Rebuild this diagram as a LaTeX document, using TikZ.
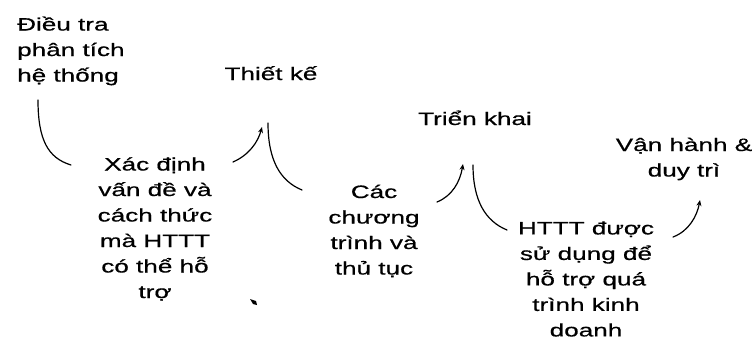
\documentclass[tikz,border=0pt]{standalone}
\usepackage{fontspec}
\setmainfont{Liberation Sans}[FakeStretch=1.45, FakeBold=0.6]
\usetikzlibrary{arrows.meta}

\tikzset{
  label text/.style={inner sep=0pt, align=center, font=\fontsize{18}{25.5}\selectfont},
  flow/.style={line width=1.2pt, line cap=round},
  flowarrow/.style={flow, -{Stealth[length=6pt,width=5pt]}},
}

\begin{document}
\begin{tikzpicture}[x=1pt, y=-1pt]
  \useasboundingbox (0,0) rectangle (754,345);

  % stages and their outputs
  \node[label text, align=left, anchor=west] (phantich) at (17,51) {Điều tra\\phân tích\\hệ thống};
  \node[label text, anchor=base] (thietke) at (271,80) {Thiết kế};
  \node[label text, anchor=base] (trienkhai) at (475,125) {Triển khai};
  \node[label text, anchor=center] (vanhanh) at (684,159) {Vận hành \&\\duy trì};

  \node[label text] (xacdinh) at (155,229) {Xác định\\vấn đề và\\cách thức\\mà HTTT\\có thể hỗ\\trợ};
  \node[label text] (chuongtrinh) at (374,231) {Các\\chương\\trình và\\thủ tục};
  \node[label text] (httt) at (586,279) {HTTT được\\sử dụng để\\hỗ trợ quá\\trình kinh\\doanh};

  % connector end points
  \coordinate (a1) at (38,100);  \coordinate (a2) at (71,165);
  \coordinate (b1) at (233,162); \coordinate (b2) at (262,127);
  \coordinate (c1) at (268,123); \coordinate (c2) at (302,190);
  \coordinate (d1) at (437,202); \coordinate (d2) at (463,164);
  \coordinate (e1) at (473,165); \coordinate (e2) at (507,230);
  \coordinate (f1) at (673,237); \coordinate (f2) at (700,200);

  % curved connectors
  \draw[flow] (a1) .. controls (38,140) and (48,158) .. (a2);
  \draw[flowarrow] (b1) .. controls (249,155) and (258,142) .. (b2);
  \draw[flow] (c1) .. controls (268,160) and (280,181) .. (c2);
  \draw[flowarrow] (d1) .. controls (452,196) and (460,182) .. (d2);
  \draw[flow] (e1) .. controls (473,200) and (485,221) .. (e2);
  \draw[flowarrow] (f1) .. controls (689,231) and (697,216) .. (f2);

  % small stray mark
  \fill (250,299) -- (256,301) -- (257,305) -- (253,304) -- cycle;
\end{tikzpicture}
\end{document}
